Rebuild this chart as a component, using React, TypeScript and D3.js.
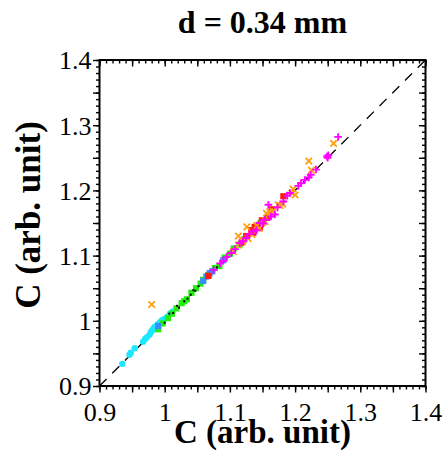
import React, { useEffect, useRef } from "react";
import * as d3 from "d3";

const W = 442;
const H = 450;

const titleText = "d = 0.34 mm";
const xTitle = "C (arb. unit)";
const yTitle = "C (arb. unit)";
const domain = [0.9, 1.4];
const labelTicks = [0.9, 1.0, 1.1, 1.2, 1.3, 1.4];

const cyanX = [0.935, 0.946, 0.948, 0.954, 0.967, 0.97, 0.973, 0.977, 0.979, 0.981, 0.984, 0.987, 0.99, 0.993, 0.996, 1.0, 1.004, 1.008, 1.012];
const cyanY = [0.934, 0.948, 0.951, 0.958, 0.968, 0.972, 0.975, 0.979, 0.983, 0.986, 0.99, 0.992, 0.995, 0.998, 1.001, 1.003, 1.006, 1.011, 1.014];

const blackX = [0.992, 1.0, 1.007, 1.013, 1.019, 1.022, 1.03, 1.035, 1.04, 1.044, 1.047, 1.052, 1.058, 1.07, 1.08];
const blackY = [0.99, 0.997, 1.011, 1.012, 1.023, 1.02, 1.03, 1.034, 1.04, 1.047, 1.046, 1.053, 1.06, 1.072, 1.082];

const greenX = [0.99, 0.997, 1.005, 1.011, 1.018, 1.026, 1.03, 1.034, 1.041, 1.048, 1.055, 1.059, 1.067, 1.077, 1.084, 1.092, 1.1, 1.106, 1.115, 1.122, 1.135, 1.144, 1.147];
const greenY = [0.987, 0.996, 1.004, 1.011, 1.019, 1.027, 1.03, 1.033, 1.043, 1.05, 1.057, 1.063, 1.07, 1.081, 1.084, 1.097, 1.103, 1.111, 1.117, 1.125, 1.136, 1.143, 1.15];

const blueX = [0.99, 1.059, 1.064, 1.069, 1.073, 1.09];
const blueY = [0.992, 1.061, 1.068, 1.073, 1.076, 1.093];

const magentaX = [1.075, 1.085, 1.09, 1.095, 1.102, 1.108, 1.115, 1.12, 1.125, 1.13, 1.136, 1.141, 1.146, 1.151, 1.154, 1.159, 1.163, 1.169, 1.173, 1.182, 1.188, 1.192, 1.205, 1.209, 1.215, 1.221, 1.224, 1.232, 1.249, 1.251, 1.25, 1.266];
const magentaY = [1.078, 1.088, 1.092, 1.098, 1.104, 1.11, 1.119, 1.122, 1.127, 1.133, 1.137, 1.139, 1.15, 1.149, 1.155, 1.178, 1.16, 1.163, 1.174, 1.183, 1.192, 1.196, 1.207, 1.211, 1.216, 1.22, 1.224, 1.232, 1.252, 1.254, 1.25, 1.282];

const orangeX = [0.98, 1.105, 1.113, 1.113, 1.12, 1.126, 1.128, 1.134, 1.141, 1.145, 1.15, 1.154, 1.156, 1.159, 1.161, 1.166, 1.174, 1.177, 1.181, 1.195, 1.197, 1.2, 1.221, 1.225, 1.259];
const orangeY = [1.025, 1.106, 1.116, 1.13, 1.122, 1.144, 1.126, 1.132, 1.146, 1.142, 1.15, 1.152, 1.165, 1.162, 1.167, 1.168, 1.178, 1.177, 1.179, 1.196, 1.202, 1.193, 1.245, 1.231, 1.272];

const redX = [1.067, 1.118, 1.125, 1.133, 1.136, 1.138, 1.144, 1.146, 1.149, 1.157, 1.164, 1.182];
const redY = [1.069, 1.12, 1.13, 1.139, 1.135, 1.144, 1.147, 1.142, 1.154, 1.158, 1.171, 1.191];

type Series = { xs: number[]; ys: number[]; color: string; shape: string };

const series: Series[] = [
  { xs: cyanX, ys: cyanY, color: "#1ee8ff", shape: "circle" },
  { xs: greenX, ys: greenY, color: "#22ee11", shape: "square" },
  { xs: blackX, ys: blackY, color: "#000000", shape: "dot" },
  { xs: blueX, ys: blueY, color: "#3a8cff", shape: "square" },
  { xs: redX, ys: redY, color: "#ff1a00", shape: "square" },
  { xs: orangeX, ys: orangeY, color: "#ffa010", shape: "cross" },
  { xs: magentaX, ys: magentaY, color: "#ff00ff", shape: "plus" },
];

export default function App() {
  const ref = useRef<SVGSVGElement | null>(null);

  useEffect(() => {
    const svg = d3.select(ref.current);
    svg.selectAll("*").remove();

    const left = 99.5;
    const top = 60;
    const size = 326;
    const x = d3.scaleLinear().domain(domain).range([left, left + size]);
    const y = d3.scaleLinear().domain(domain).range([top + size, top]);

    const major = d3.range(0, 11).map((i) => +(domain[0] + i * 0.05).toFixed(2));
    const minor = d3.range(0, 51).map((i) => +(domain[0] + i * 0.01).toFixed(2));
    const fmt = (d: any) => String(+(+d).toFixed(2));
    const font = "'Liberation Serif', 'Times New Roman', serif";

    const styleAxis = (g: any) => {
      g.select(".domain").remove();
      g.selectAll("line").attr("stroke", "#000").attr("stroke-width", 1.4);
    };

    // minor ticks
    svg.append("g").attr("transform", `translate(0,${top + size})`)
      .call(d3.axisBottom(x).tickValues(minor).tickSize(3.5).tickFormat(() => "")).call(styleAxis);
    svg.append("g").attr("transform", `translate(${left},0)`)
      .call(d3.axisLeft(y).tickValues(minor).tickSize(3.5).tickFormat(() => "")).call(styleAxis);
    svg.append("g").attr("transform", `translate(0,${top})`)
      .call(d3.axisBottom(x).tickValues(minor).tickSize(3.5).tickFormat(() => "")).call(styleAxis);
    svg.append("g").attr("transform", `translate(${left + size},0)`)
      .call(d3.axisLeft(y).tickValues(minor).tickSize(3.5).tickFormat(() => "")).call(styleAxis);
    // major ticks
    svg.append("g").attr("transform", `translate(0,${top + size})`)
      .call(d3.axisBottom(x).tickValues(major).tickSize(6.5).tickFormat(() => "")).call(styleAxis);
    svg.append("g").attr("transform", `translate(${left},0)`)
      .call(d3.axisLeft(y).tickValues(major).tickSize(6.5).tickFormat(() => "")).call(styleAxis);
    svg.append("g").attr("transform", `translate(0,${top})`)
      .call(d3.axisBottom(x).tickValues(major).tickSize(6.5).tickFormat(() => "")).call(styleAxis);
    svg.append("g").attr("transform", `translate(${left + size},0)`)
      .call(d3.axisLeft(y).tickValues(major).tickSize(6.5).tickFormat(() => "")).call(styleAxis);

    // labels
    const xl = svg.append("g").attr("transform", `translate(0,${top + size})`)
      .call(d3.axisBottom(x).tickValues(labelTicks).tickSize(0).tickPadding(0).tickFormat(fmt));
    xl.select(".domain").remove();
    xl.selectAll("text").attr("font-family", font).attr("font-size", 26).attr("fill", "#000")
      .attr("y", 35).attr("dy", null);
    const yl = svg.append("g").attr("transform", `translate(${left},0)`)
      .call(d3.axisLeft(y).tickValues(labelTicks).tickSize(0).tickPadding(0).tickFormat(fmt));
    yl.select(".domain").remove();
    yl.selectAll("text").attr("font-family", font).attr("font-size", 26).attr("fill", "#000")
      .attr("x", -8).attr("dy", "0.34em");

    // diagonal
    svg.append("line")
      .attr("x1", x(domain[0])).attr("y1", y(domain[0]))
      .attr("x2", x(domain[1])).attr("y2", y(domain[1]))
      .attr("stroke", "#000").attr("stroke-width", 1.3).attr("stroke-dasharray", "10,8");

    // points
    series.forEach((s) => {
      const g = svg.append("g");
      s.xs.forEach((xv, i) => {
        const cx = x(xv);
        const cy = y(s.ys[i]);
        if (s.shape === "circle") {
          g.append("circle").attr("cx", cx).attr("cy", cy).attr("r", 3.2).attr("fill", s.color);
        } else if (s.shape === "square") {
          g.append("rect").attr("x", cx - 3.1).attr("y", cy - 3.1).attr("width", 6.2).attr("height", 6.2).attr("fill", s.color);
        } else if (s.shape === "dot") {
          g.append("rect").attr("x", cx - 1).attr("y", cy - 1).attr("width", 2).attr("height", 2).attr("fill", s.color);
        } else if (s.shape === "plus") {
          g.append("path").attr("d", `M${cx - 3.8},${cy}H${cx + 3.8}M${cx},${cy - 3.8}V${cy + 3.8}`)
            .attr("stroke", s.color).attr("stroke-width", 1.8);
        } else if (s.shape === "cross") {
          g.append("path").attr("d", `M${cx - 3.2},${cy - 3.2}L${cx + 3.2},${cy + 3.2}M${cx - 3.2},${cy + 3.2}L${cx + 3.2},${cy - 3.2}`)
            .attr("stroke", s.color).attr("stroke-width", 1.8);
        }
      });
    });

    // frame
    svg.append("rect").attr("x", left).attr("y", top).attr("width", size).attr("height", size)
      .attr("fill", "none").attr("stroke", "#000").attr("stroke-width", 2);

    // titles
    svg.append("text").attr("x", left + size / 2).attr("y", 33).attr("text-anchor", "middle")
      .attr("font-family", font).attr("font-weight", "bold").attr("font-size", 32).text(titleText);
    svg.append("text").attr("x", left + size / 2).attr("y", 443).attr("text-anchor", "middle")
      .attr("font-family", font).attr("font-weight", "bold").attr("font-size", 33).text(xTitle);
    svg.append("text").attr("transform", `translate(40,${215}) rotate(-90)`).attr("text-anchor", "middle")
      .attr("font-family", font).attr("font-weight", "bold").attr("font-size", 35).text(yTitle);
  }, []);

  return (
    <svg ref={ref} width={W} height={H} style={{ position: "absolute", left: 0, top: 0, background: "#fff" }} />
  );
}
